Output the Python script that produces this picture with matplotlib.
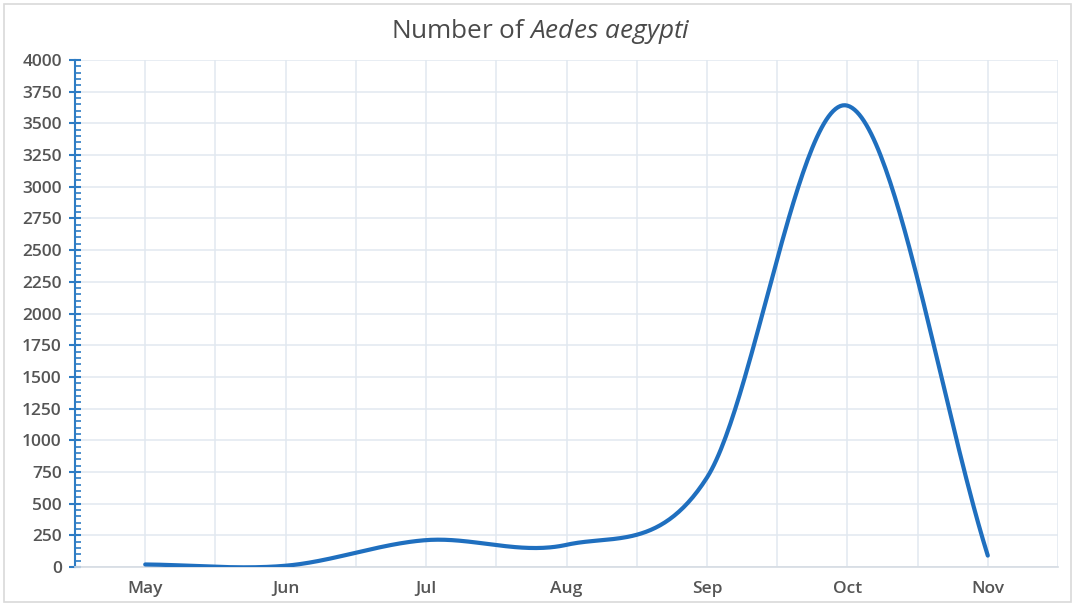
import numpy as np
import matplotlib
matplotlib.use("Agg")
import matplotlib.pyplot as plt
from matplotlib.patches import Rectangle
from matplotlib.ticker import MultipleLocator

months = ["May", "Jun", "Jul", "Aug", "Sep", "Oct", "Nov"]
counts = [20, 10, 212, 175, 705, 3640, 90]

plt.rcParams['font.family'] = ['Open Sans', 'DejaVu Sans']
plt.rcParams['mathtext.fontset'] = 'custom'
plt.rcParams['mathtext.rm'] = 'Open Sans'
plt.rcParams['mathtext.it'] = 'Open Sans:italic'

def smooth(xs, ys, n=60):
    xs = np.asarray(xs, float); ys = np.asarray(ys, float)
    N = len(xs)
    m = np.zeros(N)
    for i in range(N):
        if i == 0:
            m[i] = ys[1] - ys[0]
        elif i == N - 1:
            m[i] = ys[-1] - ys[-2]
        else:
            m[i] = (ys[i + 1] - ys[i - 1]) / 2
    ox, oy = [], []
    for i in range(N - 1):
        t = np.linspace(0, 1, n, endpoint=(i == N - 2))
        h00 = 2*t**3 - 3*t**2 + 1
        h10 = t**3 - 2*t**2 + t
        h01 = -2*t**3 + 3*t**2
        h11 = t**3 - t**2
        ox.append(xs[i] + t * (xs[i + 1] - xs[i]))
        oy.append(h00*ys[i] + h10*m[i] + h01*ys[i+1] + h11*m[i+1])
    return np.concatenate(ox), np.concatenate(oy)

fig = plt.figure(figsize=(10.75, 6.06), dpi=100)
fig.patch.set_facecolor('white')
fig.add_artist(Rectangle((4/1075, 4/606), 1067/1075, 598/606, transform=fig.transFigure,
                         fill=False, edgecolor='#d9d9d9', linewidth=1.2))

ax = fig.add_axes([75/1075, 39/606, 983/1075, 507/606])
x = np.arange(len(months))
sx, sy = smooth(x, counts)
ax.plot(sx, sy, color='#1f6fbf', linewidth=3.0, solid_capstyle='round', zorder=3)

ax.set_xlim(-0.5, len(months) - 0.5)
ax.set_ylim(0, 4000)
ax.set_xticks(x)
ax.set_xticklabels(months)
ax.xaxis.set_minor_locator(MultipleLocator(0.5))
ax.yaxis.set_major_locator(MultipleLocator(250))
ax.yaxis.set_minor_locator(MultipleLocator(50))

gc = '#e1e8f0'
ax.grid(True, which='major', axis='y', color=gc, linewidth=1.1)
ax.grid(True, which='both', axis='x', color=gc, linewidth=1.1)
ax.set_axisbelow(True)

for s in ['top', 'right']:
    ax.spines[s].set_visible(False)
ax.spines['bottom'].set_color('#d5dce3')
ax.spines['bottom'].set_linewidth(1.2)
ax.spines['left'].set_color('#2e7cc4')
ax.spines['left'].set_linewidth(1.5)

ax.tick_params(axis='x', which='both', length=0, labelsize=12.5, labelcolor='#555555', pad=10)
ax.tick_params(axis='y', which='major', direction='inout', length=9, width=1.5, color='#2e7cc4',
               labelsize=12.5, labelcolor='#555555', pad=5)
ax.tick_params(axis='y', which='minor', direction='in', length=4, width=1.2, color='#2e7cc4')
for lab in ax.get_xticklabels() + ax.get_yticklabels():
    lab.set_fontweight('semibold')

fig.text(0.503, 0.948, r"Number of $\it{Aedes\ aegypti}$", ha='center', va='center',
         fontsize=18.8, color='#4a4a4a')

fig.savefig('out.png', dpi=100, facecolor='white')
